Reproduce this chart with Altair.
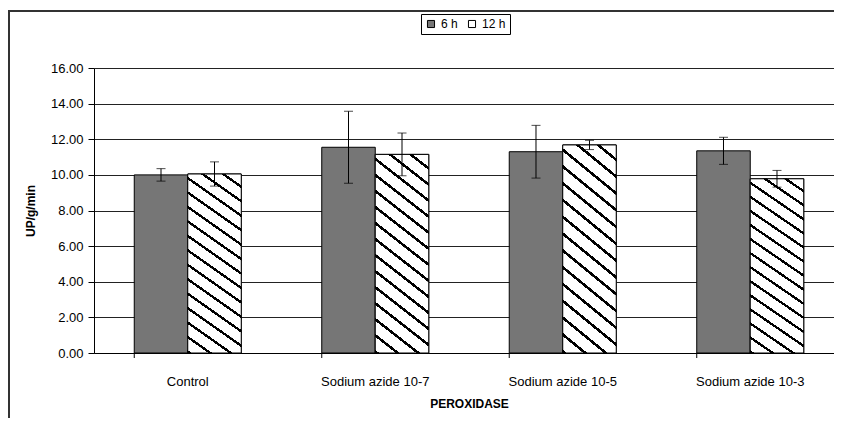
import altair as alt
import pandas as pd

categories = ["Control", "Sodium azide 10-7", "Sodium azide 10-5", "Sodium azide 10-3"]
series = ["6 h", "12 h"]
values_6h = [10.00, 11.55, 11.30, 11.35]
errors_6h = [0.35, 2.02, 1.48, 0.76]
values_12h = [10.05, 11.15, 11.68, 9.78]
errors_12h = [0.68, 1.20, 0.26, 0.47]

rows = []
for i, c in enumerate(categories):
    rows.append({"cat": c, "series": "6 h", "value": values_6h[i], "err": errors_6h[i]})
    rows.append({"cat": c, "series": "12 h", "value": values_12h[i], "err": errors_12h[i]})
df = pd.DataFrame(rows)
df["lo"] = df["value"] - df["err"]
df["hi"] = df["value"] + df["err"]

W, H = 740, 285
FONT = "Liberation Sans"

x_scale = alt.Scale(domain=categories, range=[0, 750], paddingInner=0.4293, paddingOuter=0.2147)
xo_scale = alt.Scale(domain=series, padding=0)
y_scale = alt.Scale(domain=[0, 16], nice=False, zero=True)

x_axis = alt.Axis(title="PEROXIDASE", labelAngle=0, ticks=False,
                  labelFontSize=13, labelPadding=22, labelColor="black",
                  domainColor="black", titleFontSize=12, titleFontWeight="bold",
                  titleY=50, titleBaseline="middle", titleColor="black",
                  labelOverlap=False)
y_axis = alt.Axis(title="UP/g/min", tickCount=8, tickMinStep=2,
                  format=".2f", labelFontSize=13, labelColor="black",
                  labelPadding=5, tickSize=6, tickColor="black", labelOverlap=False,
                  labelSeparation=0,
                  domainColor="black", gridColor="#222222", gridWidth=1,
                  titleFontSize=12, titleFontWeight="bold", titleColor="black",
                  titleX=-64, titleY=H / 2, titleAngle=-90,
                  titleAlign="center", titleBaseline="middle")


def xe(**kw):
    return alt.X("cat:N", scale=x_scale, sort=categories, axis=x_axis, **kw)


def ye(field):
    return alt.Y(field, scale=y_scale, axis=y_axis)


xo_enc = alt.XOffset("series:N", scale=xo_scale, sort=series)

base = alt.Chart(df)

bars = base.mark_bar(stroke="black", strokeWidth=1).encode(
    x=xe(), xOffset=xo_enc, y=ye("value:Q"),
    fill=alt.Fill("series:N", sort=series,
                  scale=alt.Scale(domain=series, range=["#767676", "#ffffff"]),
                  legend=alt.Legend(title=None, orient="none", direction="horizontal",
                                    legendX=327, legendY=-54, strokeColor="black",
                                    padding=4, symbolType="square", symbolSize=50,
                                    symbolStrokeColor="black", symbolStrokeWidth=1,
                                    labelFontSize=12, labelFont=FONT, columnPadding=8,
                                    symbolOpacity=1, labelColor="black")),
)

stripes = []
n = 15
for k in range(n):
    a = k / n
    b = a + 0.2 / n
    stripes += [alt.GradientStop(color="white", offset=a),
                alt.GradientStop(color="black", offset=a + 0.0002),
                alt.GradientStop(color="black", offset=b),
                alt.GradientStop(color="white", offset=b + 0.0002)]
stripes.append(alt.GradientStop(color="white", offset=1))
grad = alt.LinearGradient(gradient="linear", stops=stripes, x1=0, y1=1, x2=0.244, y2=-0.16)

bars12 = base.transform_filter(alt.datum.series == "12 h").mark_bar(
    stroke="black", strokeWidth=1, fill=grad
).encode(x=xe(), xOffset=xo_enc, y=ye("value:Q"))

err = base.mark_rule(color="black", strokeWidth=1).encode(
    x=xe(), xOffset=xo_enc, y=ye("lo:Q"), y2="hi:Q")
cap_hi = base.mark_tick(color="black", thickness=1, size=9, orient="horizontal").encode(
    x=xe(), xOffset=xo_enc, y=ye("hi:Q"))
cap_lo = base.mark_tick(color="black", thickness=1, size=9, orient="horizontal").encode(
    x=xe(), xOffset=xo_enc, y=ye("lo:Q"))

cat_df = pd.DataFrame({"cat": categories})
xticks = alt.Chart(cat_df).mark_rule(color="black", strokeWidth=1).encode(
    x=xe(bandPosition=0), y=alt.value(H), y2=alt.value(H + 5))

frame_left = alt.Chart(cat_df).mark_rule(color="#333333", strokeWidth=2, clip=False).encode(
    x=alt.value(-85), y=alt.value(-58), y2=alt.value(H + 70))
frame_top = alt.Chart(cat_df).mark_rule(color="#333333", strokeWidth=2, clip=False).encode(
    x=alt.value(-86), x2=alt.value(W + 10), y=alt.value(-57))

chart = alt.layer(frame_left, frame_top, bars, bars12, err, cap_hi, cap_lo, xticks).properties(
    width=W, height=H,
    autosize=alt.AutoSizeParams(type="none"),
    padding={"left": 86, "top": 60, "right": 0, "bottom": 65},
).configure_view(stroke=None).configure(font=FONT).configure_axis(labelFont=FONT, titleFont=FONT)

chart.save("out.html", embed_options={"renderer": "svg", "actions": False})
